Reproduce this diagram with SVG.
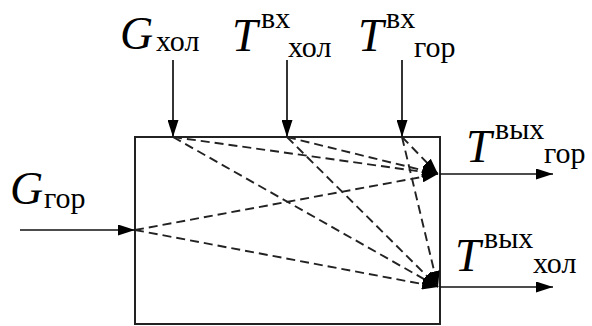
<svg xmlns="http://www.w3.org/2000/svg" width="592" height="326" viewBox="0 0 592 326">
<defs>
<style>
.ln{stroke:#111;stroke-width:1.7;fill:none}
.box{stroke:#222;stroke-width:2;fill:#fff}
.ds{stroke:#222;stroke-width:1.9;fill:none;stroke-dasharray:9 5}
.lbl{font-family:'Liberation Serif','Times New Roman','DejaVu Serif',serif;fill:#000}
.big{font-style:italic;font-size:46px}
.sub{font-size:30px}
</style>
<marker id="ah" viewBox="0 0 17 11" refX="17" refY="5.5" markerWidth="17" markerHeight="11" markerUnits="userSpaceOnUse" orient="auto">
<path d="M0,0 L17,5.5 L0,11 Z" fill="#000"/>
</marker>
<marker id="dh" viewBox="0 0 16 11" refX="16" refY="5.5" markerWidth="16" markerHeight="11" markerUnits="userSpaceOnUse" orient="auto">
<path d="M0,0 L16,5.5 L0,11 Z" fill="#000"/>
</marker>
</defs>
<g id="block">
<rect class="box" x="135" y="137" width="305" height="187"/>
</g>
<g id="connectors">
<line class="ln" x1="173" y1="60" x2="173" y2="137" marker-end="url(#ah)"/>
<line class="ln" x1="287" y1="60" x2="287" y2="137" marker-end="url(#ah)"/>
<line class="ln" x1="402" y1="60" x2="402" y2="137" marker-end="url(#ah)"/>
<line class="ln" x1="20" y1="230" x2="135" y2="230" marker-end="url(#ah)"/>
<line class="ln" x1="440" y1="174" x2="553" y2="174" marker-end="url(#ah)"/>
<line class="ln" x1="440" y1="287" x2="553" y2="287" marker-end="url(#ah)"/>
<line class="ds" x1="173" y1="137" x2="438" y2="174" marker-end="url(#dh)"/>
<line class="ds" x1="173" y1="137" x2="438" y2="287" marker-end="url(#dh)"/>
<line class="ds" x1="287" y1="137" x2="438" y2="174" marker-end="url(#dh)"/>
<line class="ds" x1="287" y1="137" x2="438" y2="287" marker-end="url(#dh)"/>
<line class="ds" x1="402" y1="137" x2="438" y2="174" marker-end="url(#dh)"/>
<line class="ds" x1="402" y1="137" x2="438" y2="287" marker-end="url(#dh)"/>
<line class="ds" x1="135" y1="230" x2="438" y2="174" marker-end="url(#dh)"/>
<line class="ds" x1="135" y1="230" x2="438" y2="287" marker-end="url(#dh)"/>
</g>
<g id="label-g-hol" class="lbl">
<text x="120" y="49" class="big">G</text><text x="156" y="51" class="sub">хол</text>
</g>
<g id="label-t-vx-hol" class="lbl">
<text x="232" y="51" class="big">T</text><text x="261" y="28" class="sub">вх</text><text x="288" y="57" class="sub">хол</text>
</g>
<g id="label-t-vx-gor" class="lbl">
<text x="358" y="51" class="big">T</text><text x="386" y="28" class="sub">вх</text><text x="414" y="57" class="sub">гор</text>
</g>
<g id="label-g-gor" class="lbl">
<text x="10" y="204" class="big">G</text><text x="44" y="208" class="sub">гор</text>
</g>
<g id="label-t-vyx-gor" class="lbl">
<text x="466" y="162" class="big">T</text><text x="495" y="139" class="sub">вых</text><text x="544" y="163" class="sub">гор</text>
</g>
<g id="label-t-vyx-hol" class="lbl">
<text x="455" y="271" class="big">T</text><text x="484" y="248" class="sub">вых</text><text x="533" y="273" class="sub">хол</text>
</g>
</svg>
